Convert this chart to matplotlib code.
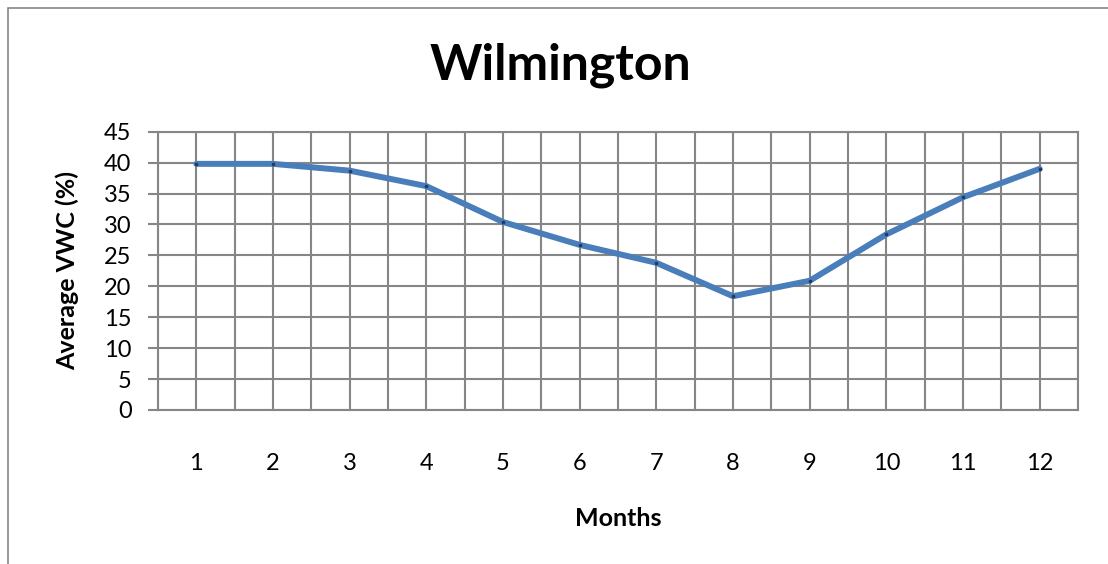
import numpy as np
import matplotlib
matplotlib.use('Agg')
import matplotlib.pyplot as plt
from matplotlib.patches import Rectangle

# data
months = [1, 2, 3, 4, 5, 6, 7, 8, 9, 10, 11, 12]
vwc = [39.8, 39.8, 38.7, 36.2, 30.4, 26.7, 23.8, 18.4, 20.9, 28.4, 34.4, 39.0]
yticks = [0, 5, 10, 15, 20, 25, 30, 35, 40, 45]

plt.rcParams['font.family'] = ['Lato', 'DejaVu Sans']
grid_col = '#868686'

fig = plt.figure(figsize=(11.08, 5.64), dpi=100)
fig.patches.append(Rectangle((8 / 1108, -0.1), 1.2, 1 - 8 / 564 + 0.1,
                             transform=fig.transFigure, fill=False,
                             edgecolor=grid_col, linewidth=1.2))

ax = fig.add_axes([158 / 1108, (564 - 410) / 564, 920 / 1108, (410 - 131.7) / 564])

ax.plot(months, vwc, color='#4a7ebb', linewidth=4.3, solid_capstyle='round',
        marker='o', markersize=1.6, markerfacecolor='#1f3b63', markeredgecolor='#1f3b63',
        zorder=3)

ax.set_xlim(0.5, 12.5)
ax.set_ylim(0, 45)
ax.set_xticks(months)
ax.set_xticks(np.arange(0.5, 13, 1), minor=True)
ax.set_yticks(yticks)

ax.grid(True, which='both', axis='x', color=grid_col, linewidth=1.5)
ax.grid(True, which='major', axis='y', color=grid_col, linewidth=1.5)

for s in ax.spines.values():
    s.set_color(grid_col)
    s.set_linewidth(1.5)

ax.tick_params(axis='x', which='both', length=0, pad=31, labelsize=17)
ax.tick_params(axis='y', which='major', length=7, width=1.5, color=grid_col,
               pad=12, labelsize=17)

ax.set_xlabel('Months', fontsize=18, fontweight='bold', labelpad=24)
ax.set_ylabel('Average VWC (%)', fontsize=18, fontweight='bold', labelpad=18)

fig.text(560 / 1108, 1 - 65 / 564, 'Wilmington', ha='center', va='center',
         fontsize=36, fontweight='bold')

fig.savefig('out.png', dpi=100)
